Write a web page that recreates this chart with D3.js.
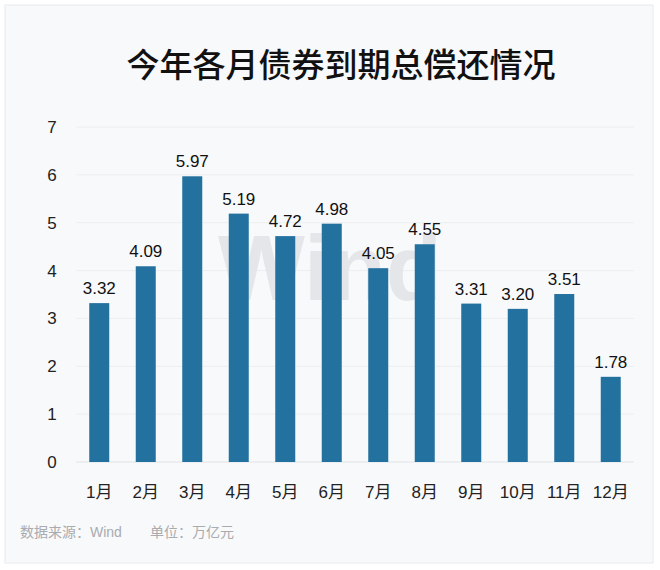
<!DOCTYPE html>
<html><head><meta charset="utf-8">
<script src="https://cdn.jsdelivr.net/npm/d3@7"></script>
<style>body{margin:0;background:#fff;}svg{display:block;}</style>
</head><body>
<svg id="c" width="660" height="570"></svg>
<script>
const months = ["1月","2月","3月","4月","5月","6月","7月","8月","9月","10月","11月","12月"];
const values = [3.32,4.09,5.97,5.19,4.72,4.98,4.05,4.55,3.31,3.20,3.51,1.78];
const yTicks = [0,1,2,3,4,5,6,7];
const title = "今年各月债券到期总偿还情况";
const source = "数据来源：Wind";
const unit = "单位：万亿元";

const svg = d3.select("#c");
const font = "'Liberation Sans', Arial, 'Noto Sans CJK SC', sans-serif";
svg.append("rect").attr("x",5).attr("y",5).attr("width",648).attr("height",558)
  .attr("fill","#f8f9fb").attr("stroke","#e8eaed");

const x = d3.scaleBand().domain(months).range([76,634]).paddingInner(0.57).paddingOuter(0.285);
const y = d3.scaleLinear().domain([0,7]).range([462,127]);

svg.append("text").attr("x",341).attr("y",77).attr("text-anchor","middle")
  .attr("font-family","'Noto Sans CJK SC', sans-serif").attr("font-size",33).attr("font-weight",500)
  .attr("fill","#111").text(title);

// gridlines
svg.append("g").selectAll("line").data(yTicks).join("line")
  .attr("x1",76).attr("x2",634).attr("y1",d=>y(d)).attr("y2",d=>y(d))
  .attr("stroke",d=>d===0?"#e0e2e5":"#eceef0").attr("stroke-width",1);

// watermark (drawn behind the bars)
svg.append("text").attr("x",330).attr("y",300).attr("text-anchor","middle")
  .attr("aria-hidden","true")
  .attr("font-family",font).attr("font-weight","bold").attr("font-size",92)
  .attr("fill","#e3e5e9").attr("opacity",0.9).text("Wind");

// y axis
const ya = svg.append("g").attr("transform","translate(60,0)")
  .call(d3.axisLeft(y).tickValues(yTicks).tickFormat(d3.format("d")).tickSize(0).tickPadding(0));
ya.select(".domain").remove();
ya.selectAll("text").attr("font-family",font).attr("font-size",17).attr("fill","#222").attr("text-anchor","middle").attr("x",-8);

// x axis
const xa = svg.append("g").attr("transform","translate(0,462)")
  .call(d3.axisBottom(x).tickSize(0).tickPadding(24));
xa.select(".domain").remove();
xa.selectAll("text").attr("font-family",font).attr("font-size",17).attr("fill","#222");

// bars
svg.append("g").selectAll("rect").data(values).join("rect")
  .attr("x",(d,i)=>x(months[i])).attr("width",x.bandwidth())
  .attr("y",d=>y(d)).attr("height",d=>y(0)-y(d)).attr("fill","#23719f");

// labels
svg.append("g").selectAll("text").data(values).join("text")
  .attr("x",(d,i)=>x(months[i])+x.bandwidth()/2).attr("y",d=>y(d)-9)
  .attr("text-anchor","middle").attr("font-family",font).attr("font-size",17).attr("fill","#111")
  .text(d=>d.toFixed(2));

svg.append("text").attr("x",20).attr("y",537).attr("font-family",font).attr("font-size",14)
  .attr("fill","#a9abaf").text(source);
svg.append("text").attr("x",150).attr("y",537).attr("font-family",font).attr("font-size",14)
  .attr("fill","#a9abaf").text(unit);
</script>
</body></html>
